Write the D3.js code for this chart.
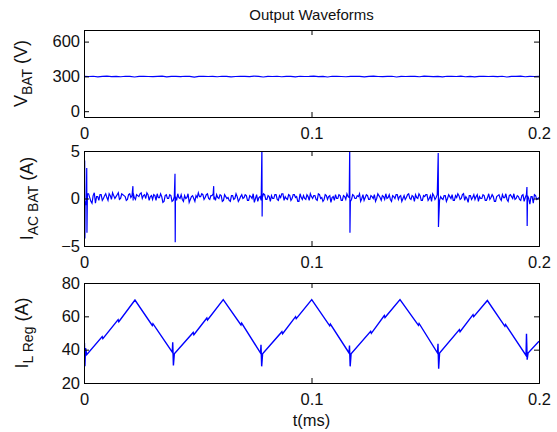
<!DOCTYPE html>
<html>
<head>
<meta charset="utf-8">
<script src="https://cdn.jsdelivr.net/npm/d3@7"></script>
<style>
  body { margin: 0; background: #fff; }
  svg { font-family: "Liberation Sans", Arial, sans-serif; }
</style>
</head>
<body>
<div id="chart-area"></div>
<script>
// tick labels
var tTicks = [0, 0.1, 0.2];
var vbatTicks = [0, 300, 600];
var iacTicks = [-5, 0, 5];
var ilTicks = [20, 40, 60, 80];

// V_BAT samples (V), evenly spaced over 0..0.2 ms
var vbatVals = [300,299,301,296,300,302,298,300,297,301,300,295,300,301,299,298,300,302,296,300,
  300,298,301,300,294,300,301,299,300,297,301,300,296,299,301,300,298,302,300,295,
  300,299,301,297,300,300,296,301,299,300,302,298,300,295,301,300,299,297,300,301,
  300,296,300,302,299,298,300,301,295,300,299,301,300,297,302,300,298,300,296,301,
  300,299,302,297,300,296,300,301,299,300,298,301,295,300,300,302,297,300,299,301];

// I_AC BAT baseline samples (A), evenly spaced over 0..0.2 ms
var iacVals = [0.4,-0.7,0.5,-0.3,0.3,-0.5,0.2,0.4,-0.2,0.3,
  0.1,0.5,-0.1,0.3,0.2,0.6,0.0,0.4,0.2,-0.1,
  0.5,0.3,0.1,0.4,0.2,0.6,0.3,0.0,0.4,0.2,
  -0.1,0.3,0.5,0.1,0.2,-0.3,0.4,0.0,0.3,-0.2,
  0.2,0.5,0.0,-0.1,0.3,0.1,-0.4,0.2,0.0,0.3,
  0.6,0.2,0.4,0.1,0.5,-0.1,0.3,0.2,0.4,0.0,
  0.3,-0.2,0.2,0.1,-0.3,0.3,0.0,0.2,-0.1,0.4,
  0.1,0.3,-0.2,0.2,0.5,0.0,-0.3,0.2,0.1,0.4,
  -0.1,0.2,0.3,0.0,0.4,-0.2,0.1,0.5,0.2,-0.1,
  0.3,0.0,0.4,0.2,-0.3,0.1,0.3,-0.1,0.2,0.5,
  0.0,0.3,-0.2,0.4,0.1,-0.1,0.3,0.2,-0.4,0.2,
  0.4,0.0,0.3,-0.2,0.2,0.5,0.1,-0.1,0.3,0.0,
  0.2,-0.3,0.4,0.1,0.3,-0.1,0.2,0.4,0.0,0.3,
  -0.2,0.2,0.5,0.1,-0.1,0.3,0.0,0.4,0.2,-0.3,
  0.3,0.1,0.5,-0.1,0.2,0.4,0.0,0.3,-0.2,0.2,
  0.4,0.0,-0.3,0.3,0.1,0.5,0.2,-0.1,0.3,0.0,
  0.2,0.4,-0.2,0.1,0.3,0.0,0.5,0.2,-0.4,0.3,
  0.1,-0.1,0.4,0.2,0.0,0.3,-0.2,0.5,0.1,0.2,
  -0.3,0.3,0.0,0.4,0.1,-0.1,0.3,0.2,0.5,0.0,
  0.2,-0.2,0.4,0.1,0.3,-0.6,0.2,0.4,-0.1,0.1];

// I_AC BAT samples half a step later (A)
var iacValsMid = [-0.3,0.5,0.1,-0.5,0.6,0.2,-0.2,0.4,0.0,0.5,
  -0.2,0.3,0.6,0.0,0.4,-0.1,0.5,0.3,-0.2,0.4,
  0.1,0.6,-0.1,0.3,0.5,0.0,0.4,0.6,-0.2,0.3,
  0.4,-0.2,0.1,0.5,-0.4,0.3,0.0,0.4,-0.3,0.2,
  -0.2,0.1,0.4,-0.3,0.0,0.5,-0.1,0.3,-0.3,0.1,
  0.2,0.5,-0.1,0.4,0.0,0.3,0.5,-0.2,0.1,0.4,
  -0.3,0.4,0.0,-0.2,0.3,-0.1,0.5,-0.3,0.2,0.0,
  0.4,-0.2,0.3,0.0,-0.4,0.4,0.1,-0.2,0.5,-0.1,
  0.3,-0.3,0.0,0.4,-0.1,0.3,0.5,-0.2,0.0,0.4,
  -0.2,0.4,0.1,-0.3,0.5,-0.1,0.0,0.4,-0.2,0.2,
  0.3,-0.1,0.5,0.0,-0.3,0.4,-0.1,0.3,0.1,-0.2,
  0.0,0.4,-0.2,0.3,-0.1,0.2,-0.3,0.4,0.0,0.3,
  0.5,0.0,-0.2,0.4,-0.1,0.3,0.0,-0.3,0.5,0.1,
  0.3,-0.1,0.0,0.4,-0.3,0.2,0.4,-0.1,0.3,0.0,
  -0.1,0.4,0.0,0.3,-0.3,0.1,0.5,-0.2,0.3,0.4,
  -0.2,0.3,0.5,-0.1,0.4,-0.2,0.0,0.3,-0.3,0.4,
  0.0,-0.2,0.3,0.5,-0.1,0.4,-0.2,0.0,0.3,-0.1,
  0.4,0.2,-0.3,0.0,0.4,-0.2,0.1,-0.1,0.4,-0.3,
  0.2,0.4,-0.2,0.1,0.5,-0.3,0.4,0.0,-0.1,0.3,
  -0.1,0.3,-0.3,0.4,0.0,0.2,-0.5,0.3,0.0,-0.2];

// I_AC BAT switching spikes: time (ms), peak (A), dip (A)
var spikeT = [0.0003, 0.0012, 0.0215, 0.0400, 0.0570, 0.0782, 0.1168, 0.1557, 0.1947];
var spikeUp = [4.0, 3.2, 1.3, 2.6, 1.3, 5.5, 5.5, 4.8, 1.2];
var spikeDown = [-4.2, -3.6, -0.2, -4.6, -0.1, -1.9, -3.6, -3.0, -2.9];

// I_L Reg vertices (ms, A)
var ilT = [0, 0.0002, 0.0004, 0.0007, 0.0012, 0.0080, 0.0083, 0.0150, 0.0153, 0.0224,
  0.0300, 0.0303, 0.0388, 0.0390, 0.0393, 0.0397, 0.0480, 0.0483, 0.0540, 0.0543, 0.0612,
  0.0690, 0.0693, 0.0776, 0.0778, 0.0781, 0.0785, 0.0870, 0.0873, 0.0930, 0.0933, 0.1001,
  0.1080, 0.1083, 0.1165, 0.1167, 0.1170, 0.1174, 0.1260, 0.1263, 0.1320, 0.1323, 0.1389,
  0.1470, 0.1473, 0.1554, 0.1556, 0.1559, 0.1563, 0.1650, 0.1653, 0.1710, 0.1713, 0.1773,
  0.1850, 0.1853, 0.1943, 0.1945, 0.1948, 0.1952, 0.2000];
var ilV = [38, 44, 30, 41, 37, 47.8, 46.6, 58.0, 56.8, 69.8,
  54.5, 55.6, 38.5, 44.5, 30.5, 37.5, 50.3, 49.0, 59.0, 57.8, 70,
  54.8, 55.9, 38, 43, 30, 37.5, 50.8, 49.6, 59.8, 58.6, 70,
  54.3, 55.4, 38, 42.5, 30, 37.5, 51.0, 49.8, 60.5, 59.3, 70,
  54.6, 55.7, 38, 43.5, 28.5, 38, 52.0, 50.8, 61.0, 59.8, 69.5,
  54.0, 55.1, 36.5, 49.5, 34, 38, 45];

var xLeft = 84, xRight = 539;

var svg = d3.select("#chart-area")
  .append("svg")
  .attr("width", 557)
  .attr("height", 432);

var x = d3.scaleLinear().domain([0, 0.2]).range([xLeft, xRight]);

// build the data series
var vbatData = vbatVals.map(function(v, i) {
  return {t: i * 0.2 / (vbatVals.length - 1), v: v};
});

var step = 0.2 / (iacVals.length - 1);
var iacData = iacVals.map(function(v, i) { return {t: i * step, v: v}; });
iacValsMid.forEach(function(v, i) {
  if ((i + 0.5) * step <= 0.2) iacData.push({t: (i + 0.5) * step, v: v});
});
spikeT.forEach(function(t, i) {
  iacData.push({t: t, v: spikeUp[i]});
  iacData.push({t: t + 0.0001, v: spikeDown[i]});
});
iacData.sort(function(a, b) { return a.t - b.t; });

var ilData = ilT.map(function(t, i) { return {t: t, v: ilV[i]}; });

function panel(id, top, bottom, yDomain, yTicks, data, label, sw) {
  var y = d3.scaleLinear().domain(yDomain).range([bottom, top]);
  var g = svg.append("g");

  g.append("clipPath").attr("id", "clip" + id)
    .append("rect")
    .attr("x", xLeft).attr("y", top)
    .attr("width", xRight - xLeft).attr("height", bottom - top);

  g.append("path")
    .datum(data)
    .attr("clip-path", "url(#clip" + id + ")")
    .attr("fill", "none")
    .attr("stroke", "#0000ff")
    .attr("stroke-width", sw)
    .attr("d", d3.line().x(function(d) { return x(d.t); }).y(function(d) { return y(d.v); }));

  // axes with inward ticks, MATLAB style box
  var fmt = function(d) { return d3.format("")(d); };
  g.append("g").attr("transform", "translate(0," + bottom + ")")
    .call(d3.axisBottom(x).tickValues(tTicks).tickSize(-5).tickPadding(10).tickFormat(fmt));
  g.append("g").attr("transform", "translate(0," + top + ")")
    .call(d3.axisTop(x).tickValues(tTicks).tickSize(-5).tickFormat(""));
  g.append("g").attr("transform", "translate(" + xLeft + ",0)")
    .call(d3.axisLeft(y).tickValues(yTicks).tickSize(-5).tickPadding(4).tickFormat(fmt));
  g.append("g").attr("transform", "translate(" + xRight + ",0)")
    .call(d3.axisRight(y).tickValues(yTicks).tickSize(-5).tickFormat(""));

  g.selectAll(".domain").attr("stroke", "#000");
  g.selectAll(".tick line").attr("stroke", "#000");
  g.selectAll(".tick text").attr("fill", "#111").style("font-size", "16.5px");

  // y label with subscript
  var t = g.append("text")
    .attr("transform", "translate(" + label.x + "," + ((top + bottom) / 2) + ") rotate(-90)")
    .attr("text-anchor", "middle")
    .style("font-size", "18px")
    .attr("fill", "#111");
  t.append("tspan").text(label.main);
  t.append("tspan").attr("dy", 5).style("font-size", "14px").text(label.sub);
  t.append("tspan").attr("dy", -5).text(" (" + label.unit + ")");
}

panel(1, 30, 117, [-50, 700], vbatTicks, vbatData, {x: 27, main: "V", sub: "BAT", unit: "V"}, 1.1);
panel(2, 151, 246, [-5, 5], iacTicks, iacData, {x: 33, main: "I", sub: "AC BAT", unit: "A"}, 1.2);
panel(3, 283, 383, [20, 80], ilTicks, ilData, {x: 28, main: "I", sub: "L Reg", unit: "A"}, 1.4);

svg.append("text")
  .attr("x", (xLeft + xRight) / 2).attr("y", 20)
  .attr("text-anchor", "middle")
  .style("font-size", "15px")
  .attr("fill", "#111")
  .text("Output Waveforms");

svg.append("text")
  .attr("x", (xLeft + xRight) / 2).attr("y", 426)
  .attr("text-anchor", "middle")
  .style("font-size", "16.5px")
  .attr("fill", "#111")
  .text("t(ms)");
</script>
</body>
</html>
